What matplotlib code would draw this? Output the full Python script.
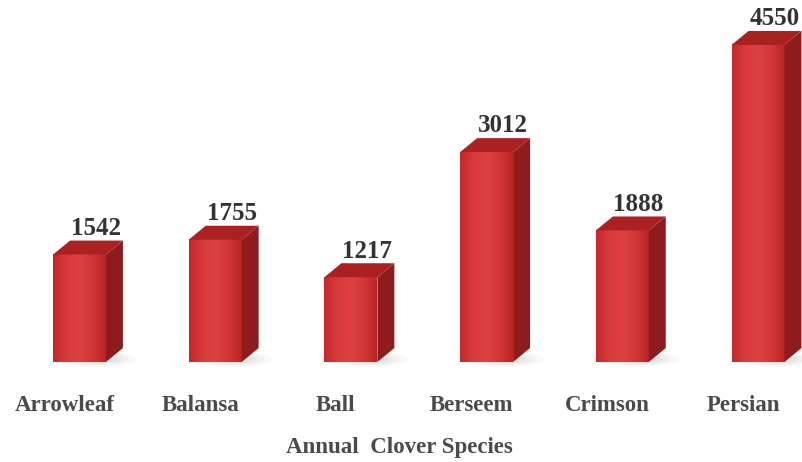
import numpy as np
import matplotlib.pyplot as plt
from matplotlib.patches import Polygon, Ellipse
from matplotlib.colors import LinearSegmentedColormap

species = ["Arrowleaf", "Balansa", "Ball", "Berseem", "Crimson", "Persian"]
yields = [1542, 1755, 1217, 3012, 1888, 4550]

# geometry in data units (x = category index, y = value)
width = 0.39
dx = 0.125
dy = 200

fig = plt.figure(figsize=(8.02, 4.62), dpi=100)
ax = fig.add_axes([0, 0, 1, 1])
ax.set_xlim(-0.586, 5.324)
ax.set_ylim(-1435, 5194)
ax.axis("off")

front_cmap = LinearSegmentedColormap.from_list(
    "front", ["#c42a2a", "#d83a3a", "#dc4242", "#d33636", "#bb2626"]
)
grad = np.linspace(0, 1, 64).reshape(1, -1)

for i, v in enumerate(yields):
    x0 = i - width / 2
    x1 = i + width / 2

    # soft shadow at the base
    for k, a in enumerate([0.05, 0.07, 0.09]):
        ax.add_patch(Ellipse((i + dx, 40), width * 1.5 - k * 0.12, 220 - k * 50,
                             color="#808080", alpha=a, lw=0, zorder=1))

    # front face with horizontal gradient
    ax.imshow(grad, cmap=front_cmap, extent=[x0, x1, 0, v],
              aspect="auto", zorder=3, interpolation="bilinear")

    # side face
    side = [(x1, 0), (x1 + dx, dy), (x1 + dx, v + dy), (x1, v)]
    ax.add_patch(Polygon(side, closed=True, fc="#8e1c1c", ec="none", zorder=3))

    # top face
    top = [(x0, v), (x1, v), (x1 + dx, v + dy), (x0 + dx, v + dy)]
    ax.add_patch(Polygon(top, closed=True, fc="#ab2020", ec="none", zorder=4))

    ax.text(i + 0.12, v + dy + 10, f"{v}", ha="center", va="bottom",
            fontsize=18, fontweight="bold", family="Liberation Serif",
            color="#333333", zorder=5)

    ax.text(i - 0.11, -630, species[i], ha="center", va="center",
            fontsize=16.5, fontweight="bold", family="Liberation Serif",
            color="#4a4a4a")

ax.text(2.36, -1220, "Annual  Clover Species", ha="center", va="center",
        fontsize=16.5, fontweight="bold", family="Liberation Serif",
        color="#4a4a4a")

fig.savefig("out.png", dpi=100)
